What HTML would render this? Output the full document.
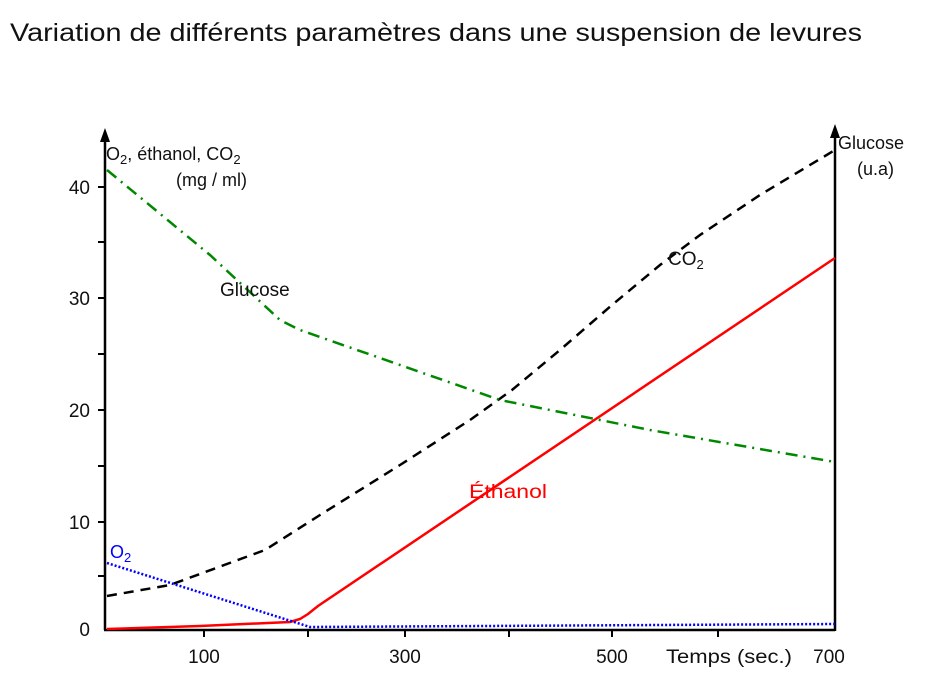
<!DOCTYPE html>
<html><head><meta charset="utf-8"><style>
body{margin:0;background:#fff;}
svg{display:block;font-family:"Liberation Sans",sans-serif;}
</style></head><body>
<svg width="945" height="686" viewBox="0 0 945 686">
<text x="10" y="41" font-size="25" fill="#111" textLength="852" lengthAdjust="spacingAndGlyphs">Variation de différents paramètres dans une suspension de levures</text>
<!-- axes -->
<line x1="105" y1="138" x2="105" y2="630" stroke="#000" stroke-width="2.5"/>
<polygon points="105,128 100,142 110,142" fill="#000"/>
<line x1="104" y1="630" x2="835" y2="630" stroke="#000" stroke-width="2.5"/>
<line x1="835" y1="134" x2="835" y2="631" stroke="#000" stroke-width="2.5"/>
<polygon points="835,124 830,138 840,138" fill="#000"/>
<g stroke="#000" stroke-width="2">
<line x1="98" y1="187" x2="105" y2="187"/><line x1="98" y1="242" x2="105" y2="242"/>
<line x1="98" y1="298" x2="105" y2="298"/><line x1="98" y1="354" x2="105" y2="354"/>
<line x1="98" y1="410" x2="105" y2="410"/><line x1="98" y1="466" x2="105" y2="466"/>
<line x1="98" y1="522" x2="105" y2="522"/><line x1="98" y1="576" x2="105" y2="576"/>
<line x1="204" y1="630" x2="204" y2="637"/><line x1="308" y1="630" x2="308" y2="637"/>
<line x1="405" y1="630" x2="405" y2="637"/><line x1="509" y1="630" x2="509" y2="637"/>
<line x1="612" y1="630" x2="612" y2="637"/><line x1="718" y1="630" x2="718" y2="637"/>
</g>
<g font-size="19" fill="#111" text-anchor="end">
<text x="90" y="194">40</text><text x="90" y="305">30</text><text x="90" y="417">20</text>
<text x="90" y="529">10</text><text x="90" y="636">0</text>
</g>
<g font-size="19" fill="#111" text-anchor="middle">
<text x="204" y="663">100</text><text x="405" y="663">300</text><text x="612" y="663">500</text>
<text x="829" y="663">700</text>
</g>
<text x="666" y="663" font-size="19" fill="#111" textLength="126" lengthAdjust="spacingAndGlyphs">Temps (sec.)</text>
<text x="106" y="160" font-size="18" fill="#111">O<tspan font-size="13" dy="4">2</tspan><tspan dy="-4">, éthanol, CO</tspan><tspan font-size="13" dy="4">2</tspan></text>
<text x="176" y="186" font-size="18" fill="#111">(mg / ml)</text>
<text x="838" y="149" font-size="18" fill="#111">Glucose</text>
<text x="857" y="175" font-size="18" fill="#111">(u.a)</text>
<!-- curves -->
<polyline fill="none" stroke="#000" stroke-width="2.5" stroke-dasharray="10,7" points="107,596 170,585 265,550 320,515 400,465 470,420 512,390 560,350 612,305 660,265 700,235 760,195 835,150"/>
<polyline fill="none" stroke="#f00" stroke-width="2.5" points="107,629 200,626 290,622 300,619 308,614 318,606 835,258"/>
<polyline fill="none" stroke="#080" stroke-width="2.5" stroke-dasharray="12,6,2,6" points="107,170 210,255 280,320 300,330 500,400 650,430 835,462"/>
<polyline fill="none" stroke="#00f" stroke-width="2.5" stroke-dasharray="2,2" points="107,563 310,627 835,624"/>
<text x="220" y="296" font-size="19" fill="#111">Glucose</text>
<text x="668" y="265" font-size="19" fill="#111">CO<tspan font-size="13" dy="4">2</tspan></text>
<text x="469" y="498" font-size="19" fill="#f00" textLength="78" lengthAdjust="spacingAndGlyphs">Éthanol</text>
<text x="110" y="558" font-size="18" fill="#00f">O<tspan font-size="13" dy="4">2</tspan></text>
</svg>
</body></html>
